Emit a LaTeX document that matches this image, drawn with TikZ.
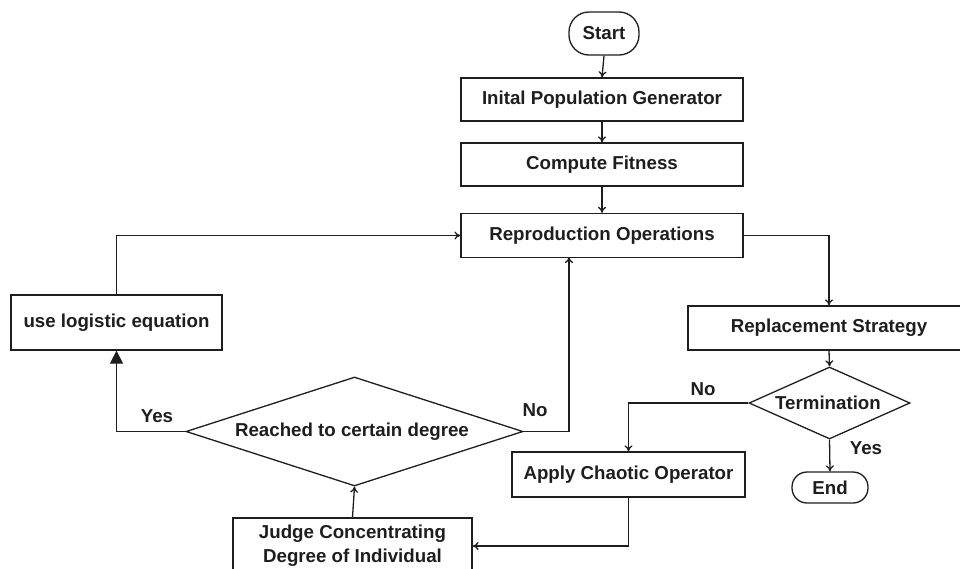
\documentclass[tikz,border=0pt]{standalone}
\usepackage{fontspec}
\setmainfont{Liberation Sans}
\usetikzlibrary{arrows.meta,shapes.geometric}
\definecolor{ink}{HTML}{1E1E1E}
\begin{document}
\begin{tikzpicture}[x=1pt,y=-1pt,
  every node/.style={font=\bfseries\fontsize{18.7}{24}\selectfont,text=ink},
  procbox/.style={draw=ink,line width=1.3pt,rectangle,inner sep=0pt},
  termbox/.style={draw=ink,line width=1.3pt,rectangle,rounded corners=20pt,inner sep=0pt},
  decision/.style={draw=ink,line width=1.3pt,diamond,inner sep=0pt},
  flow/.style={draw=ink,line width=1.3pt,-{To[length=6pt,width=8pt]}},
  bigflow/.style={draw=ink,line width=1.3pt,-{Triangle[length=13pt,width=13pt]}},
  tag/.style={inner sep=0pt}]
\useasboundingbox (0,0) rectangle (960,568);
\clip (0,0) rectangle (960,568);

% main column
\node[termbox,minimum width=70pt,minimum height=43pt] (start) at (604,33.5) {Start};
\node[procbox,minimum width=282pt,minimum height=43pt] (init) at (602,99.5) {Inital Population Generator};
\node[procbox,minimum width=282pt,minimum height=43pt] (fit) at (602,164.5) {Compute Fitness};
\node[procbox,minimum width=282pt,minimum height=44pt] (repro) at (602,235.5) {Reproduction Operations};

% left loop
\node[procbox,minimum width=211pt,minimum height=55pt] (logi) at (116.5,322.5) {use logistic equation};
\node[decision,minimum width=337pt,minimum height=109pt] (reach) at (354.5,431.5) {};
\node at (352,432) {Reached to certain degree};
\node[procbox,minimum width=239pt,minimum height=56pt,align=center] (judge) at (352.5,546) {Judge Concentrating\\Degree of Individual};

% right branch
\node[procbox,minimum width=282pt,minimum height=44pt] (repl) at (829,328) {Replacement Strategy};
\node[decision,minimum width=161pt,minimum height=72pt] (term) at (829.5,403) {};
\node at (828,403) {Termination};
\node[procbox,minimum width=233pt,minimum height=45pt] (apply) at (628.5,474.5) {Apply Chaotic Operator};
\node[termbox,minimum width=76pt,minimum height=31pt,rounded corners=15pt] (finish) at (830,487.5) {End};

\coordinate (rin) at (569,257);

% connectors
\draw[flow] (start.south) -- (init.north);
\draw[flow] (init.south) -- (fit.north);
\draw[flow] (fit.south) -- (repro.north);
\draw[flow] (logi.north) |- (repro.west);
\draw[bigflow] (reach.west) -| (logi.south);
\draw[flow] (reach.east) -| (rin);
\draw[flow] (repro.east) -| (repl.north);
\draw[flow] (repl.south) -- (term.north);
\draw[flow] (term.west) -| (apply.north);
\draw[flow] (term.south) -- (finish.north);
\draw[flow] (apply.south) |- (judge.east);
\draw[flow] (judge.north) -- (reach.south);

% branch labels
\node[tag] (yesl) at (157,416) {Yes};
\node[tag] (nol) at (535,410) {No};
\node[tag] (nor) at (703,389) {No};
\node[tag] (yesr) at (866,448) {Yes};
\end{tikzpicture}
\end{document}
